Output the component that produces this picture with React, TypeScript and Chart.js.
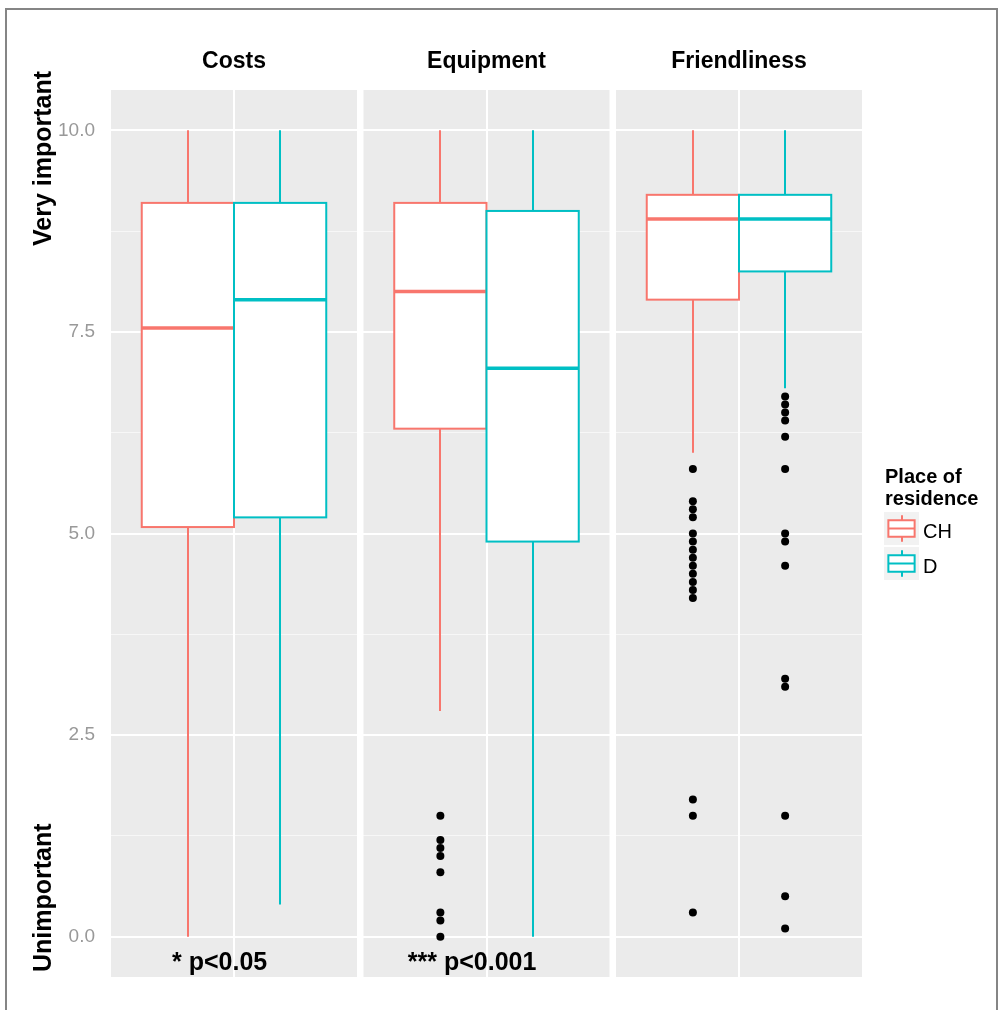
import React, { useEffect, useRef } from 'react';
import { Chart, registerables } from 'chart.js';

Chart.register(...registerables);

// ---------- data ----------
const categories = ['Costs', 'Equipment', 'Friendliness'];
const groups = ['CH', 'D'];

const chLower = [0, 2.8, 6.0];
const chQ1 = [5.08, 6.3, 7.9];
const chMedian = [7.55, 8.0, 8.9];
const chQ3 = [9.1, 9.1, 9.2];
const chUpper = [10, 10, 10];

const dLower = [0.4, 0, 6.8];
const dQ1 = [5.2, 4.9, 8.25];
const dMedian = [7.9, 7.05, 8.9];
const dQ3 = [9.1, 9.0, 9.2];
const dUpper = [10, 10, 10];

const chOutCosts: number[] = [];
const chOutEquipment = [1.5, 1.2, 1.1, 1.0, 0.8, 0.3, 0.2, 0];
const chOutFriendliness = [5.8, 5.4, 5.3, 5.2, 5.0, 4.9, 4.8, 4.7, 4.6, 4.5, 4.4, 4.3, 4.2, 1.7, 1.5, 0.3];

const dOutCosts: number[] = [];
const dOutEquipment: number[] = [];
const dOutFriendliness = [6.7, 6.6, 6.5, 6.4, 6.2, 5.8, 5.0, 4.9, 4.6, 3.2, 3.1, 1.5, 0.5, 0.1];

const yMajorTicks = [0, 2.5, 5, 7.5, 10];
const yMinorTicks = [1.25, 3.75, 6.25, 8.75];
const annotations = ['* p<0.05', '*** p<0.001', ''];
const yTitleTop = 'Very important';
const yTitleBottom = 'Unimportant';
const legendTitle = ['Place of', 'residence'];

// ---------- styling / geometry ----------
const COLORS = ['#F8766D', '#00BFC4'];
const FONT = '"Liberation Sans", Arial, Helvetica, sans-serif';
const PANEL_SPAN = 1.2;
const PANEL_GAP = 0.0317;
const LOCAL_MIN = 0.4;
const DODGE = 0.225;
const BOX_HALF = 0.225;
const ANNOT_X = 0.93;
const ANNOT_Y = -0.33;

const pos = (p: number, u: number) => p * (PANEL_SPAN + PANEL_GAP) + (u - LOCAL_MIN);
const groupU = (g: number) => 1 + (g === 0 ? -DODGE : DODGE);

const stats = [
  { lo: chLower, q1: chQ1, med: chMedian, q3: chQ3, hi: chUpper },
  { lo: dLower, q1: dQ1, med: dMedian, q3: dQ3, hi: dUpper },
];
const outliers = [
  [chOutCosts, chOutEquipment, chOutFriendliness],
  [dOutCosts, dOutEquipment, dOutFriendliness],
];

const facetPlugin = {
  id: 'facetBoxplot',
  beforeDraw(chart: any) {
    const { ctx, chartArea, scales } = chart;
    const xs = scales.x;
    ctx.save();
    ctx.fillStyle = '#FFFFFF';
    ctx.fillRect(0, 0, chart.width, chart.height);
    ctx.fillStyle = '#EBEBEB';
    categories.forEach((_, p) => {
      const x0 = xs.getPixelForValue(pos(p, LOCAL_MIN));
      const x1 = xs.getPixelForValue(pos(p, LOCAL_MIN + PANEL_SPAN));
      ctx.fillRect(x0, chartArea.top, x1 - x0, chartArea.bottom - chartArea.top);
    });
    ctx.restore();
  },
  beforeDatasetsDraw(chart: any) {
    const { ctx, scales } = chart;
    const xs = scales.x;
    const ys = scales.y;
    ctx.save();
    categories.forEach((_, p) => {
      groups.forEach((__, g) => {
        const s = stats[g];
        const u = groupU(g);
        const xl = xs.getPixelForValue(pos(p, u - BOX_HALF));
        const xr = xs.getPixelForValue(pos(p, u + BOX_HALF));
        const xc = Math.round(xs.getPixelForValue(pos(p, u)));
        const yLo = ys.getPixelForValue(s.lo[p]);
        const yQ1 = ys.getPixelForValue(s.q1[p]);
        const yMed = ys.getPixelForValue(s.med[p]);
        const yQ3 = ys.getPixelForValue(s.q3[p]);
        const yHi = ys.getPixelForValue(s.hi[p]);
        ctx.strokeStyle = COLORS[g];
        ctx.lineWidth = 2;
        ctx.beginPath();
        ctx.moveTo(xc, yHi);
        ctx.lineTo(xc, yQ3);
        ctx.moveTo(xc, yQ1);
        ctx.lineTo(xc, yLo);
        ctx.stroke();
        ctx.fillStyle = '#FFFFFF';
        ctx.fillRect(xl, yQ3, xr - xl, yQ1 - yQ3);
        ctx.strokeRect(xl, yQ3, xr - xl, yQ1 - yQ3);
        ctx.lineWidth = 3.5;
        ctx.beginPath();
        ctx.moveTo(xl, yMed);
        ctx.lineTo(xr, yMed);
        ctx.stroke();
      });
    });
    ctx.restore();
  },
  afterDraw(chart: any) {
    const { ctx, scales } = chart;
    const xs = scales.x;
    const ys = scales.y;
    ctx.save();
    ctx.fillStyle = '#000000';
    // strip titles
    ctx.font = `bold 23px ${FONT}`;
    ctx.textAlign = 'center';
    ctx.textBaseline = 'middle';
    categories.forEach((c, p) => {
      ctx.fillText(c, xs.getPixelForValue(pos(p, 1)), 62);
    });
    // annotations
    ctx.font = `bold 25px ${FONT}`;
    annotations.forEach((a, p) => {
      if (a) ctx.fillText(a, xs.getPixelForValue(pos(p, ANNOT_X)), ys.getPixelForValue(ANNOT_Y));
    });
    // y titles
    ctx.font = `bold 25px ${FONT}`;
    ctx.textAlign = 'left';
    ctx.textBaseline = 'alphabetic';
    ctx.save();
    ctx.translate(51, 246);
    ctx.rotate(-Math.PI / 2);
    ctx.fillText(yTitleTop, 0, 0);
    ctx.restore();
    ctx.save();
    ctx.translate(51, 972);
    ctx.rotate(-Math.PI / 2);
    ctx.fillText(yTitleBottom, 0, 0);
    ctx.restore();
    // legend
    ctx.font = `bold 20px ${FONT}`;
    ctx.fillText(legendTitle[0], 885, 483);
    ctx.fillText(legendTitle[1], 885, 505);
    const kx = 884;
    const kw = 35;
    const kh = 33;
    groups.forEach((gname, g) => {
      const ky = 512 + g * 35;
      ctx.fillStyle = '#F2F2F2';
      ctx.fillRect(kx, ky, kw, kh);
      ctx.strokeStyle = COLORS[g];
      ctx.lineWidth = 2;
      const bx0 = kx + 0.125 * kw;
      const bx1 = kx + 0.875 * kw;
      const cx = Math.round(kx + kw / 2);
      ctx.beginPath();
      ctx.moveTo(cx, ky + 0.1 * kh);
      ctx.lineTo(cx, ky + 0.25 * kh);
      ctx.moveTo(cx, ky + 0.75 * kh);
      ctx.lineTo(cx, ky + 0.9 * kh);
      ctx.stroke();
      ctx.fillStyle = '#FFFFFF';
      ctx.fillRect(bx0, ky + 0.25 * kh, bx1 - bx0, 0.5 * kh);
      ctx.strokeRect(bx0, ky + 0.25 * kh, bx1 - bx0, 0.5 * kh);
      ctx.beginPath();
      ctx.moveTo(bx0, ky + 0.5 * kh);
      ctx.lineTo(bx1, ky + 0.5 * kh);
      ctx.stroke();
      ctx.fillStyle = '#000000';
      ctx.font = `20px ${FONT}`;
      ctx.textBaseline = 'middle';
      ctx.fillText(gname, 923, ky + kh / 2 + 4);
      ctx.textBaseline = 'alphabetic';
    });
    ctx.restore();
  },
};

export default function App() {
  const canvasRef = useRef<HTMLCanvasElement | null>(null);

  useEffect(() => {
    if (!canvasRef.current) return;
    const allY = [...yMajorTicks, ...yMinorTicks].sort((a, b) => a - b);
    const outlierData = groups.map((_, g) =>
      categories.flatMap((__, p) => outliers[g][p].map((v) => ({ x: pos(p, groupU(g)), y: v })))
    );
    const chart = new Chart(canvasRef.current, {
      type: 'scatter',
      data: {
        datasets: groups.map((gname, g) => ({
          label: gname,
          data: outlierData[g],
          pointRadius: 4,
          pointHoverRadius: 4,
          backgroundColor: '#000000',
          borderWidth: 0,
        })),
      },
      options: {
        animation: false,
        responsive: false,
        devicePixelRatio: 1,
        events: [],
        layout: { padding: { left: 0, top: 90, right: 143, bottom: 33 } },
        plugins: { legend: { display: false }, tooltip: { enabled: false }, title: { display: false } },
        scales: {
          x: {
            type: 'linear',
            min: 0,
            max: 3 * PANEL_SPAN + 2 * PANEL_GAP,
            afterBuildTicks: (scale: any) => {
              scale.ticks = categories.map((_, p) => ({ value: pos(p, 1) }));
            },
            afterFit: (scale: any) => {
              scale.height = 0;
            },
            ticks: { display: false },
            grid: { color: '#FFFFFF', lineWidth: 2, drawTicks: false },
            border: { display: false },
          },
          y: {
            type: 'linear',
            min: -0.5,
            max: 10.5,
            afterBuildTicks: (scale: any) => {
              scale.ticks = allY.map((v) => ({ value: v }));
            },
            afterFit: (scale: any) => {
              scale.width = 111;
            },
            ticks: {
              padding: 16,
              color: '#999999',
              font: { family: FONT, size: 19 },
              callback: (v: any) => (yMajorTicks.includes(Number(v)) ? Number(v).toFixed(1) : ''),
            },
            grid: {
              drawTicks: false,
              color: (c: any) => (c.tick && yMajorTicks.includes(c.tick.value) ? '#FFFFFF' : 'rgba(255,255,255,0.6)'),
              lineWidth: (c: any) => (c.tick && yMajorTicks.includes(c.tick.value) ? 2 : 1),
            },
            border: { display: false },
          },
        },
      },
      plugins: [facetPlugin],
    });
    return () => chart.destroy();
  }, []);

  return (
    <div style={{ position: 'fixed', left: 0, top: 0, width: 1005, height: 1010, background: '#FFFFFF', overflow: 'hidden' }}>
      <canvas ref={canvasRef} width={1005} height={1010} style={{ position: 'absolute', left: 0, top: 0, width: 1005, height: 1010 }} />
      <div
        style={{
          position: 'absolute',
          left: 5,
          top: 8,
          width: 989,
          height: 1020,
          border: '2px solid #858585',
          pointerEvents: 'none',
        }}
      />
    </div>
  );
}
